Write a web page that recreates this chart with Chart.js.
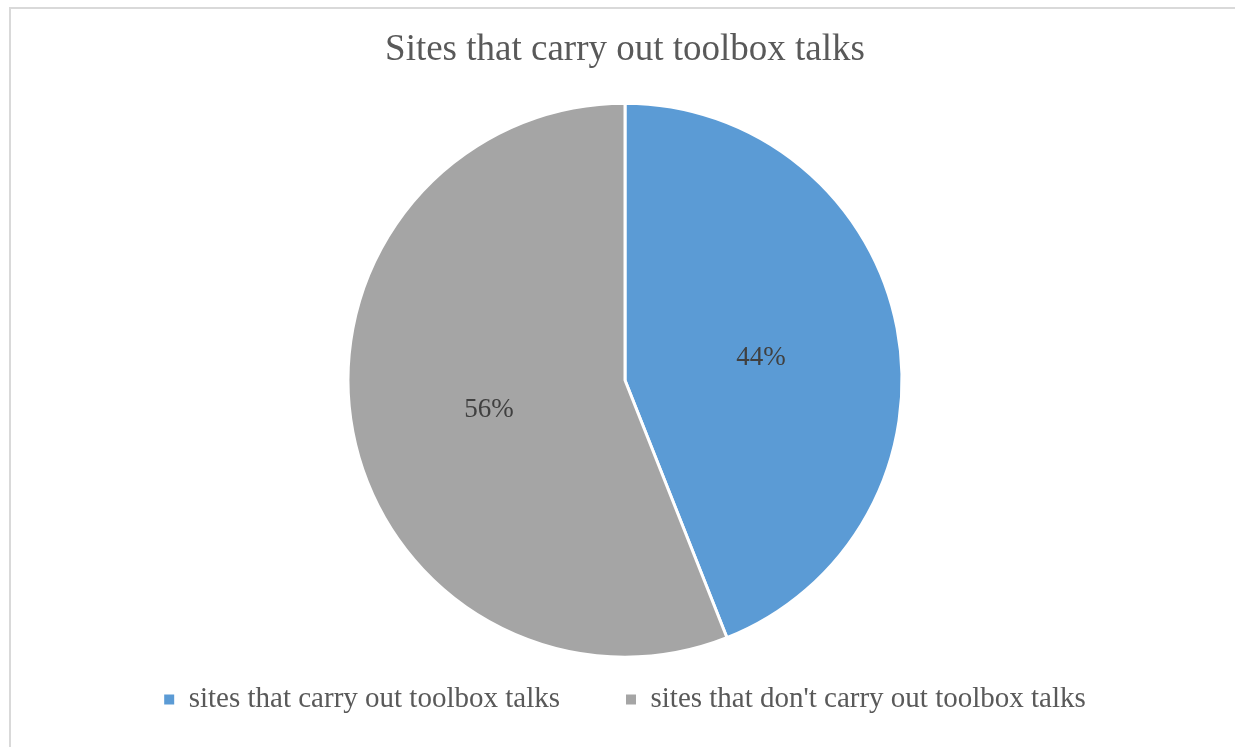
<!DOCTYPE html>
<html>
<head>
<meta charset="utf-8">
<script src="https://cdn.jsdelivr.net/npm/chart.js@4"></script>
<style>
  body { margin: 0; background: #fff; }
  #frame { position: absolute; left: 9px; top: 7px; width: 1300px; height: 800px;
           border-top: 2px solid #d9d9d9; border-left: 2px solid #d9d9d9; }
  #wrap { position: absolute; left: 0; top: 0; width: 1235px; height: 747px; }
</style>
</head>
<body>
<div id="frame"></div>
<div id="wrap"><canvas id="myChart"></canvas></div>
<script>
var labels = ['sites that carry out toolbox talks', "sites that don't carry out toolbox talks"]
var values = [44, 56]
var colors = ['#5B9BD5', '#A5A5A5']
var titleText = 'Sites that carry out toolbox talks'

var serif = "'Times New Roman', 'Liberation Serif', serif"

// percent labels in the middle of each slice
var sliceLabels = {
    id: 'sliceLabels',
    afterDatasetsDraw: function(chart) {
        let ctx = chart.ctx
        let meta = chart.getDatasetMeta(0)
        ctx.save()
        ctx.font = '27px ' + serif
        ctx.fillStyle = '#404040'
        ctx.textAlign = 'center'
        ctx.textBaseline = 'middle'
        meta.data.forEach(function(arc, i) {
            let p = arc.getProps(['x', 'y', 'startAngle', 'endAngle', 'outerRadius'], true)
            let mid = (p.startAngle + p.endAngle) / 2
            let r = p.outerRadius * 0.5
            ctx.fillText(values[i] + '%', p.x + Math.cos(mid) * r, p.y + Math.sin(mid) * r + 4)
        })
        ctx.restore()
    }
}

var ctx = document.getElementById('myChart').getContext('2d');
var chart = new Chart(ctx, {
    type: 'pie',
    data: {
        labels: labels,
        datasets: [{
            data: values,
            backgroundColor: colors,
            borderColor: '#ffffff',
            borderWidth: 3,
            radius: 277
        }]
    },
    options: {
        responsive: true,
        maintainAspectRatio: false,
        animation: false,
        layout: {
            padding: { left: 15, right: 0, top: 0, bottom: 23 }
        },
        plugins: {
            title: {
                display: true,
                text: titleText,
                color: '#595959',
                font: { family: serif, size: 37, weight: 'normal' },
                padding: { top: 28, bottom: 69 }
            },
            legend: {
                position: 'bottom',
                labels: {
                    color: '#595959',
                    font: { family: serif, size: 29 },
                    boxWidth: 10,
                    boxHeight: 10,
                    padding: 66,
                    generateLabels: function(chart) {
                        let items = Chart.controllers.pie.overrides.plugins.legend.labels.generateLabels(chart)
                        items.forEach(function(it) { it.lineWidth = 0 })
                        return items
                    }
                }
            },
            tooltip: { enabled: false }
        }
    },
    plugins: [sliceLabels]
});
</script>
</body>
</html>
